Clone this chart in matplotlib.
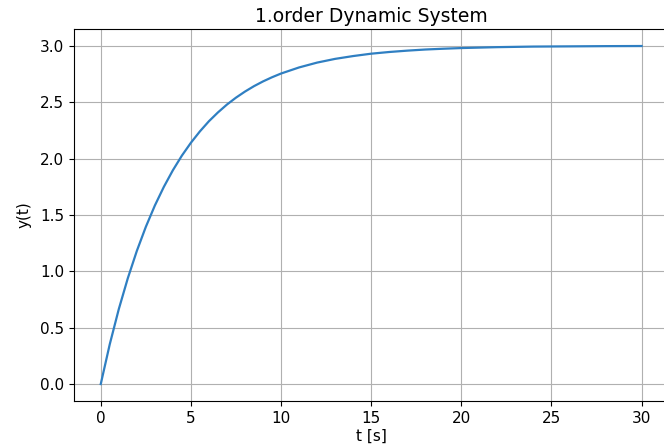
import matplotlib
matplotlib.use('Agg')
import matplotlib.pyplot as plt

# step response of a first order system, sampled time [s] and output
t = [0, 0.5, 1, 1.5, 2, 2.5, 3, 3.5, 4, 4.5, 5, 5.5, 6, 6.5, 7, 7.5, 8,
     8.5, 9, 9.5, 10, 11, 12, 13, 14, 15, 16, 17, 18, 19, 20, 22, 24, 26,
     28, 30]
y = [0.0, 0.353, 0.664, 0.938, 1.180, 1.394, 1.583, 1.749, 1.896, 2.026,
     2.140, 2.241, 2.331, 2.409, 2.479, 2.540, 2.594, 2.642, 2.684, 2.721,
     2.754, 2.808, 2.851, 2.884, 2.909, 2.930, 2.945, 2.957, 2.967, 2.974,
     2.980, 2.988, 2.993, 2.995, 2.997, 2.998]

plt.rcParams['font.size'] = 11

fig = plt.figure(figsize=(6.64, 4.48), dpi=100)
ax = fig.add_axes([0.111, 0.105, 0.896, 0.830])

ax.plot(t, y, color='#2f7fc2', linewidth=1.6)
ax.set_title('1.order Dynamic System', fontsize=13.5, pad=5)
ax.set_xlabel('t [s]', labelpad=2)
ax.set_ylabel('y(t)', labelpad=6)
ax.grid(True)

fig.savefig('out.png', dpi=100)
